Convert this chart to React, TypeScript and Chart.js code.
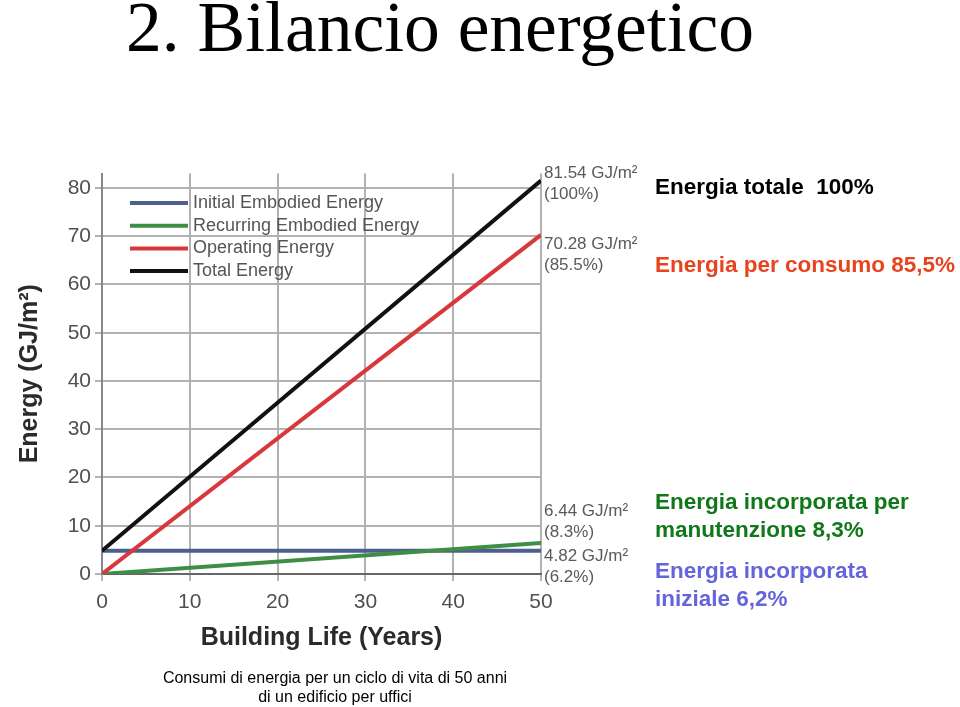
import React, { useEffect, useRef } from "react";
import { Chart, registerables } from "chart.js";

Chart.register(...registerables);

// ---- data ----
const years = [0, 50];
const initialEmbodied = [4.82, 4.82];
const recurringEmbodied = [0, 6.44];
const operatingEnergy = [0, 70.28];
const totalEnergy = [4.82, 81.54];
const seriesLabels = [
  "Initial Embodied Energy",
  "Recurring Embodied Energy",
  "Operating Energy",
  "Total Energy",
];
const xTicks = [0, 10, 20, 30, 40, 50];
const yTicks = [0, 10, 20, 30, 40, 50, 60, 70, 80];
const endValueLabels = ["4.82 GJ/m²", "6.44 GJ/m²", "70.28 GJ/m²", "81.54 GJ/m²"];
const endShareLabels = ["(6.2%)", "(8.3%)", "(85.5%)", "(100%)"];

// ---- styles ----
const seriesColors = ["#4d5f8e", "#3f8e45", "#d8383c", "#111111"];
const endLabelOffsets = [6, -32, 9, -7];
const SANS = "'Liberation Sans', Arial, Helvetica, sans-serif";

const toPoints = (vals: number[]) => vals.map((v, i) => ({ x: years[i], y: v }));

const overlayPlugin = {
  id: "overlay",
  afterDatasetsDraw(chart: any) {
    const { ctx, chartArea, scales } = chart;
    ctx.save();
    chart.data.datasets.forEach((ds: any, i: number) => {
      // legend entry
      const ly = chartArea.top + 29.5 + i * 22.7;
      const lx = chartArea.left + 28;
      ctx.strokeStyle = ds.borderColor;
      ctx.lineWidth = 4;
      ctx.beginPath();
      ctx.moveTo(lx, ly);
      ctx.lineTo(lx + 58, ly);
      ctx.stroke();
      ctx.font = `18px ${SANS}`;
      ctx.fillStyle = "#555";
      ctx.textBaseline = "middle";
      ctx.textAlign = "left";
      ctx.fillText(ds.label, lx + 63, ly);

      // end-value labels
      const last = ds.data[ds.data.length - 1];
      const px = scales.x.getPixelForValue(last.x) + 3;
      const py = scales.y.getPixelForValue(last.y) + endLabelOffsets[i];
      ctx.font = `17px ${SANS}`;
      ctx.fillStyle = "#5a5a5a";
      ctx.fillText(endValueLabels[i], px, py);
      ctx.fillText(endShareLabels[i], px, py + 21);
    });
    ctx.restore();
  },
};

function EnergyChart() {
  const ref = useRef<HTMLCanvasElement | null>(null);
  useEffect(() => {
    if (!ref.current) return;
    const gridColor = "#b2b2b2";
    const chart = new Chart(ref.current, {
      type: "line",
      data: {
        datasets: [
          { label: seriesLabels[0], data: toPoints(initialEmbodied), borderColor: seriesColors[0], order: 3 },
          { label: seriesLabels[1], data: toPoints(recurringEmbodied), borderColor: seriesColors[1], order: 2 },
          { label: seriesLabels[2], data: toPoints(operatingEnergy), borderColor: seriesColors[2], order: 1 },
          { label: seriesLabels[3], data: toPoints(totalEnergy), borderColor: seriesColors[3], order: 0 },
        ].map((d) => ({ ...d, borderWidth: 4, pointRadius: 0, tension: 0, fill: false })),
      },
      options: {
        animation: false,
        responsive: false,
        devicePixelRatio: 1,
        layout: { padding: { left: 0, top: 173.5, right: 419, bottom: 47 } },
        plugins: { legend: { display: false }, tooltip: { enabled: false } },
        scales: {
          x: {
            type: "linear",
            min: 0,
            max: 50,
            afterBuildTicks: (s: any) => {
              s.ticks = xTicks.map((v) => ({ value: v }));
            },
            afterFit: (s: any) => {
              s.height = 86;
            },
            grid: { color: gridColor, lineWidth: 2, tickLength: 7 },
            border: { color: "#666", width: 2 },
            ticks: {
              color: "#505050",
              font: { family: SANS, size: 21 },
              padding: 9,
              maxRotation: 0,
            },
            title: {
              display: true,
              text: "Building Life (Years)",
              color: "#2a2a2a",
              font: { family: SANS, size: 25, weight: "bold" },
              padding: { top: 0, bottom: 7 },
            },
          },
          y: {
            type: "linear",
            min: 0,
            max: 83,
            afterBuildTicks: (s: any) => {
              s.ticks = yTicks.map((v) => ({ value: v }));
            },
            afterFit: (s: any) => {
              s.width = 102;
            },
            grid: { color: gridColor, lineWidth: 2, tickLength: 7 },
            border: { color: "#888", width: 2 },
            ticks: {
              color: "#505050",
              font: { family: SANS, size: 21 },
              padding: 4,
            },
            title: {
              display: true,
              text: "Energy (GJ/m²)",
              color: "#2a2a2a",
              font: { family: SANS, size: 25, weight: "bold" },
              padding: { top: 15, bottom: 0 },
            },
          },
        },
      },
      plugins: [overlayPlugin],
    } as any);
    return () => chart.destroy();
  }, []);
  return (
    <canvas
      ref={ref}
      width={960}
      height={707}
      style={{ position: "absolute", left: 0, top: 0, width: 960, height: 707 }}
    />
  );
}

const sideText = (top: number, color: string, lines: string[]) => (
  <div
    style={{
      position: "absolute",
      left: 655,
      top,
      color,
      fontFamily: SANS,
      fontWeight: "bold",
      fontSize: 22.5,
      lineHeight: "27.5px",
      whiteSpace: "pre",
    }}
  >
    {lines.map((l, i) => (
      <div key={i}>{l}</div>
    ))}
  </div>
);

export default function App() {
  return (
    <div
      style={{
        position: "absolute",
        left: 0,
        top: 0,
        width: 960,
        height: 707,
        background: "#fff",
        overflow: "hidden",
      }}
    >
      <div
        style={{
          position: "absolute",
          left: 126,
          top: -9,
          fontFamily: "'Liberation Serif', 'Times New Roman', serif",
          fontSize: 71.5,
          lineHeight: "71px",
          color: "#000",
          whiteSpace: "nowrap",
        }}
      >
        2. Bilancio energetico
      </div>
      <EnergyChart />
      {sideText(173, "#000", ["Energia totale  100%"])}
      {sideText(251, "#e8431e", ["Energia per consumo 85,5%"])}
      {sideText(488, "#11781a", ["Energia incorporata per", "manutenzione 8,3%"])}
      {sideText(557, "#6464dc", ["Energia incorporata", "iniziale 6,2%"])}
      <div
        style={{
          position: "absolute",
          left: 135,
          width: 400,
          top: 668,
          textAlign: "center",
          fontFamily: SANS,
          fontSize: 16,
          lineHeight: "19px",
          color: "#000",
        }}
      >
        <div>Consumi di energia per un ciclo di vita di 50 anni</div>
        <div>di un edificio per uffici</div>
      </div>
    </div>
  );
}
